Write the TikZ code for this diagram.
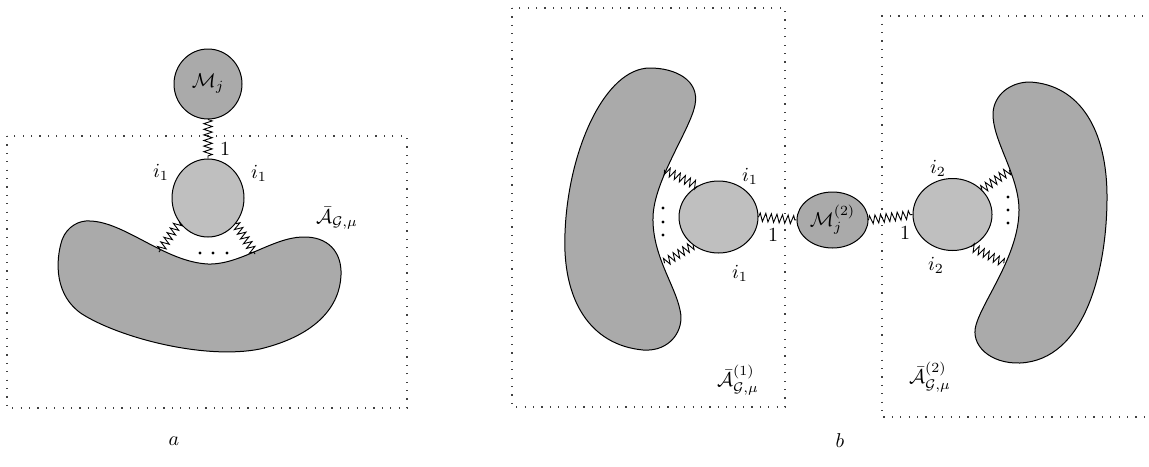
\documentclass[tikz,border=0pt]{standalone}
\usetikzlibrary{shapes.geometric,decorations.pathmorphing}
\definecolor{darkblob}{RGB}{170,170,170}
\definecolor{lightblob}{RGB}{191,191,191}
\begin{document}
\begin{tikzpicture}[x=0.5pt,y=-0.5pt,
  outl/.style={draw=black,line width=0.5pt},
  darkell/.style={outl,ellipse,fill=darkblob,inner sep=0pt},
  lightell/.style={outl,ellipse,fill=lightblob,inner sep=0pt},
  blob/.style={outl,fill=darkblob},
  zz/.style={draw,line width=0.45pt,decorate,decoration={zigzag,segment length=2.8pt,amplitude=2.1pt}},
  frame/.style={draw=black!75,line width=0.6pt,dash pattern=on 0.6pt off 3.6pt,line cap=butt},
  lab/.style={inner sep=0pt}]
\useasboundingbox (0,0) rectangle (1149,466);
% ---------- part a ----------
\draw[frame] (7,136) rectangle (407,408);
\draw[blob] (90,221) .. controls (125,222) and (165,262) .. (208,264)
  .. controls (240,265) and (272,238) .. (302,237)
  .. controls (328,236) and (342,252) .. (341,275)
  .. controls (340,305) and (318,335) .. (260,349)
  .. controls (205,360) and (120,338) .. (82,314)
  .. controls (55,296) and (55,262) .. (62,240)
  .. controls (67,226) and (80,220) .. (90,221) -- cycle;
\node[darkell,minimum width=34pt,minimum height=35pt] (Ma) at (208,84) {$\mathcal{M}_j$};
\node[lightell,minimum width=36pt,minimum height=39pt] (La) at (208,198) {};
\coordinate (ba1) at (159,252);
\coordinate (ba2) at (255,254);
\draw[zz] (Ma.south) -- (La.north);
\draw[zz] (La.220) -- (ba1);
\draw[zz] (La.317) -- (ba2);
\foreach \xx in {200,213,227} \fill (\xx,253) circle (0.8pt);
\node[lab] (a1) at (225,149) {$1$};
\node[lab] (ai1) at (161,172) {$i_1$};
\node[lab] (ai2) at (259,173) {$i_1$};
\node[lab] (aA) at (337,218) {$\bar{\mathcal{A}}_{\mathcal{G},\mu}$};
\node[lab] (alab) at (174,441) {$a$};
% ---------- part b ----------
\draw[frame] (512,8) rectangle (785,407);
\draw[frame] (1160,16) -- (882,16) -- (882,417) -- (1160,417);
\draw[blob] (650,68) .. controls (605,68) and (568,150) .. (565,233)
  .. controls (562,300) and (590,345) .. (643,350)
  .. controls (670,352) and (685,330) .. (680,310)
  .. controls (675,285) and (652,255) .. (653,217)
  .. controls (654,180) and (690,130) .. (695,105)
  .. controls (700,80) and (675,68) .. (650,68) -- cycle;
\draw[blob] (1030,82) .. controls (1080,85) and (1107,130) .. (1107,197)
  .. controls (1107,270) and (1085,360) .. (1020,363)
  .. controls (990,364) and (970,345) .. (976,325)
  .. controls (983,300) and (1019,255) .. (1019,210)
  .. controls (1019,175) and (992,140) .. (993,113)
  .. controls (994,95) and (1010,82) .. (1030,82) -- cycle;
\node[lightell,minimum width=39.5pt,minimum height=36pt] (L1) at (718.5,217) {};
\node[darkell,minimum width=35.5pt,minimum height=28pt] (M2) at (832.5,220) {$\mathcal{M}^{(2)}_j$};
\node[lightell,minimum width=39.5pt,minimum height=36pt] (L2) at (952.5,214.5) {};
\coordinate (b1u) at (664,170);
\coordinate (b1d) at (664,263);
\coordinate (b2u) at (1010,170);
\coordinate (b2d) at (1004,263);
\draw[zz] (L1.east) -- (M2.west);
\draw[zz] (M2.east) -- (L2.west);
\draw[zz] (L1.124) -- (b1u);
\draw[zz] (L1.228) -- (b1d);
\draw[zz] (L2.40) -- (b2u);
\draw[zz] (L2.300) -- (b2d);
\foreach \yy in {208,222,235} \fill (663,\yy) circle (0.8pt);
\foreach \yy in {197,210,223} \fill (1008,\yy) circle (0.8pt);
\node[lab] (bi1u) at (750,176) {$i_1$};
\node[lab] (bi1d) at (740,273) {$i_1$};
\node[lab] (b1one) at (773,235) {$1$};
\node[lab] (b2one) at (905,233) {$1$};
\node[lab] (bi2u) at (938,168) {$i_2$};
\node[lab] (bi2d) at (936,265) {$i_2$};
\node[lab] (bA1) at (738,380) {$\bar{\mathcal{A}}^{(1)}_{\mathcal{G},\mu}$};
\node[lab] (bA2) at (930,377) {$\bar{\mathcal{A}}^{(2)}_{\mathcal{G},\mu}$};
\node[lab] (blab) at (840,441) {$b$};
\end{tikzpicture}
\end{document}
